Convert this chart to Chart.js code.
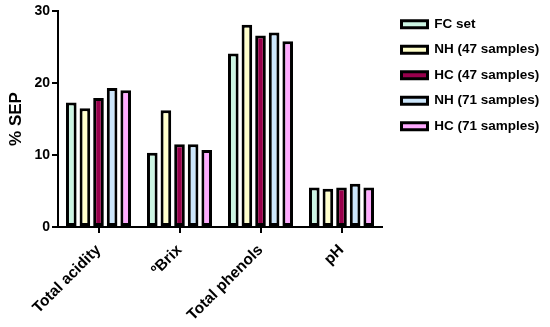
<!DOCTYPE html>
<html lang="en">
<head>
  <meta charset="UTF-8">
  <title>% SEP</title>
  <script src="https://cdn.jsdelivr.net/npm/chart.js"></script>
  <style>
    html, body { margin: 0; padding: 0; background: #fff; }
  </style>
</head>
<body>
  <canvas id="sepChart" width="550" height="327"></canvas>

  <script>
    const categories = ['Total acidity', 'ºBrix', 'Total phenols', 'pH'];
    const seriesNames = ['FC set', 'NH (47 samples)', 'HC (47 samples)', 'NH (71 samples)', 'HC (71 samples)'];
    const fcSet = [17.3, 10.3, 24.1, 5.5];
    const nh47 = [16.5, 16.2, 28.1, 5.3];
    const hc47 = [17.9, 11.5, 26.6, 5.5];
    const nh71 = [19.3, 11.5, 27.0, 6.0];
    const hc71 = [19.0, 10.7, 25.8, 5.5];
    const yTicks = [0, 10, 20, 30];

    const colors = ['#ccf5e3', '#ffffcc', '#99004c', '#cce6fb', '#ffaaff'];
    const values = [fcSet, nh47, hc47, nh71, hc71];

    Chart.defaults.font.family = "'Liberation Sans', Arial, sans-serif";
    Chart.defaults.font.weight = 'bold';
    Chart.defaults.color = '#000';

    // put the legend where the original has it
    const legendSpot = {
      id: 'legendSpot',
      beforeInit(chart) {
        const fit = chart.legend.fit;
        chart.legend.fit = function () {
          fit.call(this);
          this.width = 168;
        };
      },
      afterLayout(chart) {
        const lg = chart.legend;
        lg.left = 389.5;
        lg.top = 5.5;
        lg.right = 550;
        lg.bottom = 327;
      }
    };

    const ctx = document.getElementById('sepChart').getContext('2d');
    new Chart(ctx, {
      type: 'bar',
      data: {
        labels: categories,
        datasets: seriesNames.map((name, i) => ({
          label: name,
          data: values[i],
          backgroundColor: colors[i],
          borderColor: '#000',
          borderWidth: 3,
          borderSkipped: false,
          categoryPercentage: 0.84,
          barPercentage: 0.78
        }))
      },
      options: {
        responsive: false,
        animation: false,
        layout: { padding: { top: 11, right: 0, bottom: 0, left: 0 } },
        plugins: {
          tooltip: { enabled: false },
          legend: {
            position: 'right',
            align: 'start',
            labels: {
              boxWidth: 26,
              boxHeight: 7,
              padding: 12,
              font: { size: 13.5, weight: 'bold' },
              color: '#000'
            }
          }
        },
        scales: {
          x: {
            afterFit(scale) { scale.height = 100; },
            grid: {
              offset: false,
              drawOnChartArea: false,
              drawTicks: true,
              tickLength: 6,
              color: '#000',
              lineWidth: 2
            },
            border: { color: '#000', width: 2 },
            ticks: {
              maxRotation: 45,
              minRotation: 45,
              padding: 8,
              font: { size: 15.5, weight: 'bold' },
              color: '#000'
            }
          },
          y: {
            min: 0,
            max: 30,
            afterFit(scale) { scale.width = 58; },
            afterBuildTicks(scale) { scale.ticks = yTicks.map(v => ({ value: v })); },
            grid: {
              drawOnChartArea: false,
              drawTicks: true,
              tickLength: 6,
              color: '#000',
              lineWidth: 2
            },
            border: { color: '#000', width: 2 },
            ticks: {
              padding: 2,
              font: { size: 14, weight: 'bold' },
              color: '#000'
            },
            title: {
              display: true,
              text: '% SEP',
              padding: { top: 6, bottom: 0 },
              font: { size: 17, weight: 'bold' },
              color: '#000'
            }
          }
        }
      },
      plugins: [legendSpot]
    });
  </script>
</body>
</html>
